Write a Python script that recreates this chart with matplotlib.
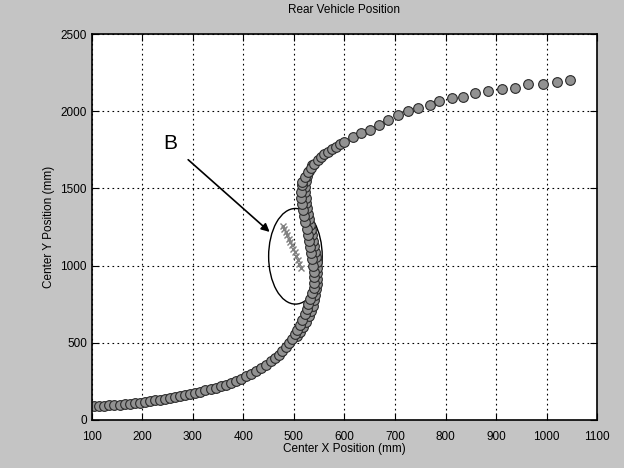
import matplotlib
matplotlib.use("Agg")
import matplotlib.pyplot as plt
from matplotlib.patches import Ellipse

# Main trajectory (Center X, Center Y) in mm
x_pos = [105, 115, 125, 135, 145, 155, 165, 175, 185, 195, 205, 215, 225, 235, 245,
         255, 265, 275, 285, 295, 305, 315, 325, 335, 345, 355, 365, 375, 385, 395,
         405, 415, 425, 435, 445, 455, 462, 470, 477, 484, 490, 496, 502, 507, 512,
         517, 521, 525, 528, 532, 536, 539, 540, 540, 539, 537, 535, 533, 531, 529,
         527, 525, 522, 520, 518, 516, 515, 515, 516, 517, 522, 527, 533, 540, 547,
         554, 560, 567, 575, 584, 592, 600, 617, 633, 650, 669,
         686, 706, 726, 746, 769, 788, 812, 835, 858, 884,
         911, 937, 964, 992, 1020, 1046]
y_pos = [88, 90, 92, 94, 96, 98, 101, 104, 108, 112, 117, 121, 126, 131, 136,
         142, 148, 155, 162, 168, 175, 183, 191, 199, 208, 217, 228, 240, 253, 267,
         282, 298, 316, 336, 357, 381, 400, 423, 447, 472, 498, 525, 555, 585, 617,
         650, 683, 716, 750, 785, 820, 855, 890, 925, 960, 1000, 1040, 1080, 1120, 1160,
         1200, 1240, 1280, 1320, 1360, 1400, 1440, 1480, 1520, 1539, 1572, 1605, 1632, 1660, 1682,
         1704, 1720, 1737, 1754, 1770, 1787, 1803, 1836, 1857, 1880, 1912,
         1945, 1978, 2000, 2022, 2044, 2066, 2084, 2094, 2117, 2132,
         2147, 2154, 2176, 2180, 2193, 2202]

# Second, overlapping pass through the S-bend
x_pass2 = [506, 512, 518, 524, 529, 533, 537, 540, 542, 544, 545, 546, 546, 546, 545,
           544, 542, 540, 538, 536, 534, 532, 530, 528, 526, 524, 523, 522, 522, 523,
           526, 530, 535]
y_pass2 = [540, 570, 600, 635, 670, 705, 740, 775, 810, 845, 880, 915, 950, 985, 1020,
           1055, 1090, 1125, 1160, 1195, 1230, 1265, 1300, 1335, 1370, 1405, 1440, 1475, 1510, 1545,
           1580, 1615, 1650]

# Branch inside region B
bx = [478, 481, 484, 487, 490, 493, 496, 499, 502, 505, 508, 511, 514]
by = [1255, 1235, 1215, 1195, 1175, 1155, 1135, 1110, 1085, 1060, 1035, 1010, 985]

xticks = [100, 200, 300, 400, 500, 600, 700, 800, 900, 1000, 1100]
yticks = [0, 500, 1000, 1500, 2000, 2500]

bg = '#c4c4c4'
fig = plt.figure(figsize=(6.24, 4.68), dpi=100, facecolor=bg)
ax = fig.add_axes([0.147, 0.103, 0.810, 0.824])
ax.set_facecolor('white')

mk = dict(linestyle='none', marker='o', markersize=7,
          markerfacecolor='#929292', markeredgecolor='#2a2a2a', markeredgewidth=0.8)
ax.plot(x_pass2, y_pass2, **mk)
ax.plot(x_pos, y_pos, **mk)
ax.plot(bx, by, linestyle='none', marker='x', markersize=4,
        color='#808080', markeredgewidth=1.0)

ax.add_patch(Ellipse((503, 1060), 106, 620, fill=False, edgecolor='black', linewidth=1.0))
ax.annotate('B', xy=(452, 1218), xytext=(255, 1790), fontsize=15,
            ha='center', va='center', family='Liberation Sans',
            arrowprops=dict(arrowstyle='-|>', color='black', lw=1.2,
                            shrinkA=8, shrinkB=0, mutation_scale=12))

ax.set_xlim(100, 1100)
ax.set_ylim(0, 2500)
ax.set_xticks(xticks)
ax.set_yticks(yticks)
ax.grid(True, color='black', linestyle=(0, (1.5, 3)), linewidth=0.8)
ax.tick_params(direction='in', length=5, top=True, right=True, labelsize=8.5, width=0.8)
ax.tick_params(axis='x', pad=8)
for lab in ax.get_xticklabels() + ax.get_yticklabels():
    lab.set_family('Liberation Sans')
for s in ax.spines.values():
    s.set_linewidth(1.2)

ax.set_xlabel('Center X Position (mm)', fontsize=8.5, family='Liberation Sans', labelpad=0)
ax.set_ylabel('Center Y Position (mm)', fontsize=8.5, family='Liberation Sans', labelpad=4)
ax.set_title('Rear Vehicle Position', fontsize=8.5, family='Liberation Sans', pad=15)

fig.savefig('out.png', dpi=100, facecolor=bg)
